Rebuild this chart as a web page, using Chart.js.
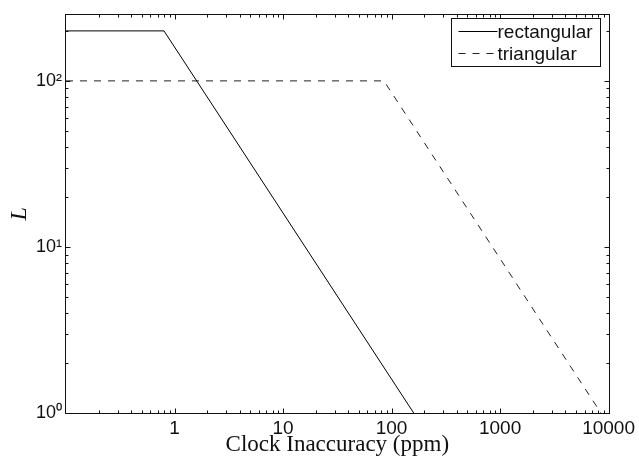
<!DOCTYPE html>
<html>
<head>
<meta charset="utf-8">
<style>
html,body{margin:0;padding:0;background:#fff;}
#wrap{width:639px;height:456px;position:relative;}
</style>
<script src="https://cdn.jsdelivr.net/npm/chart.js@4/dist/chart.umd.min.js"></script>
</head>
<body>
<div id="wrap"><canvas id="c" width="639" height="456"></canvas></div>
<script>
// ---- data ----
const seriesNames = ['rectangular', 'triangular'];
const rectX = [0.1, 0.8, 160];
const rectL = [200, 200, 1];
const triX = [0.1, 85, 8500];
const triL = [100, 100, 1];
const xTickValues = [1, 10, 100, 1000, 10000];
const xTickLabels = ['1', '10', '100', '1000', '10000'];
const yTickValues = [1, 10, 100];
const yTickLabels = ['10\u2070', '10\u00b9', '10\u00b2'];
const xRange = [0.1, 10000];
const yRange = [1, 250];
const xTitle = 'Clock Inaccuracy (ppm)';
const yTitle = 'L';

const SANS = "'Liberation Sans', Arial, Helvetica, sans-serif";
const SERIF = "'Liberation Serif', 'Times New Roman', serif";

function toPoints(xs, ys) { return xs.map((x, i) => ({ x: x, y: ys[i] })); }

// frame + inward MATLAB-style ticks on all four sides
const framePlugin = {
  id: 'frame',
  afterDatasetsDraw(chart) {
    const { ctx, chartArea: a, scales } = chart;
    const xs = scales.x, ys = scales.y;
    ctx.save();
    ctx.strokeStyle = '#111';
    ctx.lineWidth = 1;
    const L = Math.round(a.left) - 0.5, R = Math.round(a.right) + 0.5;
    const T = Math.round(a.top) - 0.5, B = Math.round(a.bottom) + 0.5;
    ctx.strokeRect(L, T, R - L, B - T);
    ctx.beginPath();
    for (let k = Math.floor(Math.log10(xRange[0])); k <= Math.ceil(Math.log10(xRange[1])); k++) {
      for (let m = 1; m <= 9; m++) {
        const v = m * Math.pow(10, k);
        if (v < xRange[0] * 1.0001 || v > xRange[1] * 1.0001) continue;
        const px = Math.round(xs.getPixelForValue(v)) + 0.5;
        const len = m === 1 ? 5 : 3;
        ctx.moveTo(px, B); ctx.lineTo(px, B - len);
        ctx.moveTo(px, T); ctx.lineTo(px, T + len);
      }
    }
    for (let k = Math.floor(Math.log10(yRange[0])); k <= Math.ceil(Math.log10(yRange[1])); k++) {
      for (let m = 1; m <= 9; m++) {
        const v = m * Math.pow(10, k);
        if (v <= yRange[0] * 1.0001 || v > yRange[1] * 1.0001) continue;
        const py = Math.round(ys.getPixelForValue(v)) + 0.5;
        const len = m === 1 ? 5 : 3;
        ctx.moveTo(L, py); ctx.lineTo(L + len, py);
        ctx.moveTo(R, py); ctx.lineTo(R - len, py);
      }
    }
    ctx.stroke();
    ctx.restore();
  }
};

// boxed legend like MATLAB
const boxLegendPlugin = {
  id: 'boxLegend',
  afterDraw(chart) {
    const { ctx } = chart;
    const bx = 451.5, by = 18.5, bw = 149, bh = 48;
    ctx.save();
    ctx.fillStyle = '#fff';
    ctx.fillRect(bx, by, bw, bh);
    ctx.strokeStyle = '#111';
    ctx.lineWidth = 1;
    ctx.setLineDash([]);
    ctx.strokeRect(bx, by, bw, bh);
    const rows = [31.5, 53.5];
    ctx.font = '19px ' + SANS;
    ctx.textBaseline = 'middle';
    ctx.textAlign = 'left';
    chart.data.datasets.forEach((ds, i) => {
      const y = rows[i];
      ctx.beginPath();
      ctx.strokeStyle = ds.borderColor;
      ctx.lineWidth = 1;
      ctx.setLineDash(ds.borderDash || []);
      ctx.moveTo(bx + 7, y);
      ctx.lineTo(bx + 46, y);
      ctx.stroke();
      ctx.setLineDash([]);
      ctx.fillStyle = '#111';
      ctx.fillText(ds.label, bx + 46, y + 1);
    });
    ctx.restore();
  }
};

new Chart(document.getElementById('c'), {
  type: 'line',
  data: {
    datasets: [
      {
        label: seriesNames[0],
        data: toPoints(rectX, rectL),
        borderColor: '#000',
        borderWidth: 1,
        pointRadius: 0,
        tension: 0,
        fill: false
      },
      {
        label: seriesNames[1],
        data: toPoints(triX, triL),
        borderColor: '#222',
        borderWidth: 1,
        borderDash: [7, 7],
        pointRadius: 0,
        tension: 0,
        fill: false
      }
    ]
  },
  options: {
    responsive: false,
    animation: false,
    devicePixelRatio: 1,
    layout: { padding: { top: 10, right: 28, left: 0, bottom: 0 } },
    plugins: { legend: { display: false }, tooltip: { enabled: false } },
    scales: {
      x: {
        type: 'logarithmic',
        position: 'bottom',
        min: xRange[0],
        max: xRange[1],
        grid: { display: false, drawTicks: false },
        border: { display: false },
        afterBuildTicks: s => { s.ticks = xTickValues.map(v => ({ value: v })); },
        afterFit: s => { s.height = 43; },
        ticks: {
          autoSkip: false,
          maxRotation: 0,
          padding: 4,
          color: '#111',
          font: { family: SANS, size: 19 },
          callback: (v) => { const i = xTickValues.indexOf(v); return i >= 0 ? xTickLabels[i] : ''; }
        },
        title: {
          display: true,
          text: xTitle,
          color: '#111',
          font: { family: SERIF, size: 23, lineHeight: 1 },
          padding: { top: 0, bottom: 0 }
        }
      },
      y: {
        type: 'logarithmic',
        position: 'left',
        min: yRange[0],
        max: yRange[1],
        grid: { display: false, drawTicks: false },
        border: { display: false },
        afterBuildTicks: s => { s.ticks = yTickValues.map(v => ({ value: v })); },
        afterFit: s => { s.width = 66; },
        ticks: {
          autoSkip: false,
          padding: 4,
          color: '#111',
          font: { family: SANS, size: 18 },
          callback: (v) => { const i = yTickValues.indexOf(v); return i >= 0 ? yTickLabels[i] : ''; }
        },
        title: {
          display: true,
          text: yTitle,
          color: '#111',
          font: { family: SERIF, size: 24, style: 'italic', lineHeight: 1 },
          padding: { top: 8, bottom: 0 }
        }
      }
    }
  },
  plugins: [framePlugin, boxLegendPlugin]
});
</script>
</body>
</html>
